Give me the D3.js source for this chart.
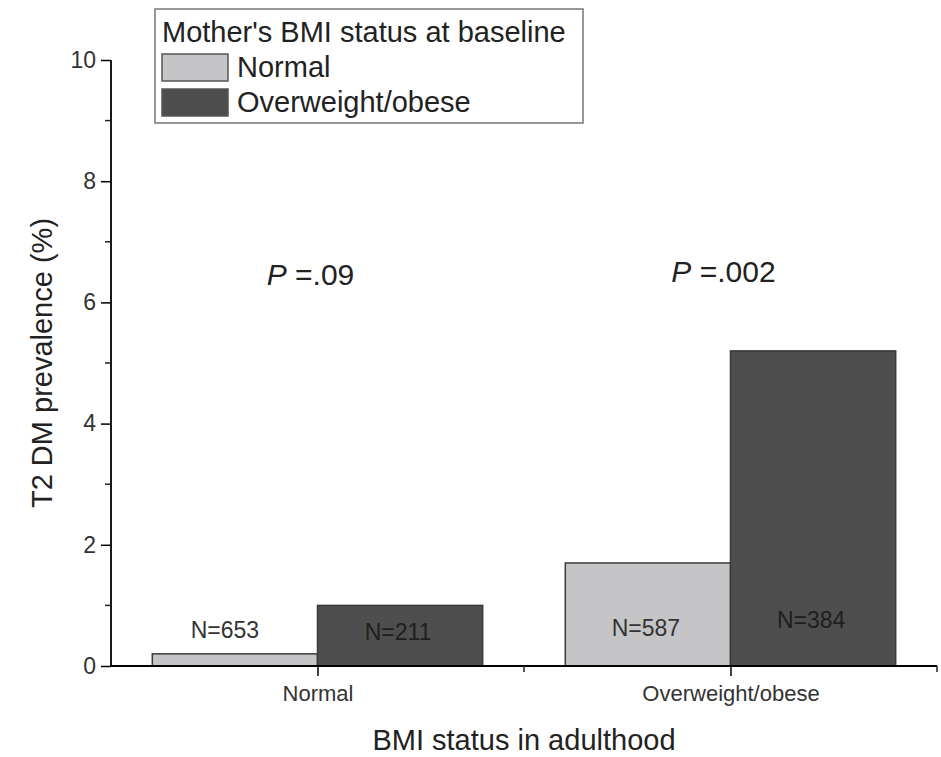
<!DOCTYPE html>
<html>
<head>
<meta charset="utf-8">
<script src="https://cdn.jsdelivr.net/npm/d3@7"></script>
<style>
  body { margin: 0; background: #fff; }
  text { font-family: "Liberation Sans", Arial, sans-serif; fill: #222; }
</style>
</head>
<body>
<div id="chart-container"></div>
<script>
const categories = ['Normal', 'Overweight/obese'];
const motherGroups = ['Normal', 'Overweight/obese'];
const normalMother = [0.2, 1.7];
const overweightMother = [1.0, 5.2];
const sampleSizes = [['N=653', 'N=587'], ['N=211', 'N=384']];
const pValues = ['.09', '.002'];
const yTicks = [0, 2, 4, 6, 8, 10];

const width = 941;
const height = 757;
const colors = ['#c5c5c7', '#4e4e4e'];
// where the N labels sit, in y units (text centre)
const labelLevels = [[0.6, 0.63], [0.56, 0.76]];

const svg = d3
  .select('#chart-container')
  .append('svg')
  .attr('width', width)
  .attr('height', height);

// category positions 1, 2 on an axis from 0.5 to 2.5 (Origin style)
const x = d3.scaleLinear().domain([0.5, 2.5]).range([111, 937]);
const y = d3.scaleLinear().domain([0, 10]).range([666, 60]);
const barWidth = 0.4;

const series = [normalMother, overweightMother];

// bars
series.forEach((values, s) => {
  svg
    .selectAll(null)
    .data(values)
    .enter()
    .append('rect')
    .attr('x', (_, i) => x(i + 1 + (s === 0 ? -barWidth : 0)))
    .attr('y', (d) => y(d))
    .attr('width', x(1 + barWidth) - x(1))
    .attr('height', (d) => y(0) - y(d))
    .style('fill', colors[s])
    .style('stroke', '#3a3a3a')
    .style('stroke-width', 1.5);
});

// N labels
series.forEach((values, s) => {
  svg
    .selectAll(null)
    .data(values)
    .enter()
    .append('text')
    .attr('x', (_, i) => x(i + 1 + (s === 0 ? -barWidth / 2 : barWidth / 2)) - (s === 0 && i === 0 ? 10 : 2))
    .attr('y', (_, i) => y(labelLevels[s][i]))
    .attr('dy', '0.36em')
    .attr('text-anchor', 'middle')
    .style('font-size', '23px')
    .style('fill', s === 0 ? '#333' : '#1e1e1e')
    .text((_, i) => sampleSizes[s][i]);
});

// P values
svg
  .selectAll(null)
  .data(pValues)
  .enter()
  .append('text')
  .attr('x', (_, i) => x(i + 1) - 7)
  .attr('y', (_, i) => y(6.34) - i * 3 + 3)
  .attr('text-anchor', 'middle')
  .style('font-size', '30px')
  .html((d) => `<tspan font-style="italic">P</tspan> =${d}`);

// y axis
const yAxis = d3.axisLeft(y).tickValues(yTicks).tickSize(10).tickPadding(5).tickFormat(d3.format('d'));
const gy = svg.append('g').attr('transform', `translate(${x(0.5)},0)`).call(yAxis);
gy.selectAll(null)
  .data([1, 3, 5, 7, 9])
  .enter()
  .append('line')
  .attr('x1', -6)
  .attr('x2', 0)
  .attr('y1', (d) => y(d))
  .attr('y2', (d) => y(d))
  .style('stroke', '#222')
  .style('stroke-width', 1.5);
gy.select('.domain').attr('d', `M0,${y(10)}V${y(0)}`).style('stroke-width', 1.8);
gy.selectAll('.tick line').style('stroke-width', 1.5);
gy.selectAll('.tick text').style('font-size', '23px').style('fill', '#333');

// x axis
const xAxis = d3.axisBottom(x).tickValues([1, 2]).tickSize(10).tickPadding(9)
  .tickFormat((d) => categories[d - 1]);
const gx = svg.append('g').attr('transform', `translate(0,${y(0)})`).call(xAxis);
gx.select('.domain').attr('d', `M${x(0.5)},0H${x(2.5)}`).style('stroke-width', 1.8);
gx.selectAll('.tick line').style('stroke-width', 1.5);
gx.selectAll('.tick text').style('font-size', '22px').style('fill', '#333');
gx.selectAll(null)
  .data([1.5, 2.5])
  .enter()
  .append('line')
  .attr('x1', (d) => x(d))
  .attr('x2', (d) => x(d))
  .attr('y1', 0)
  .attr('y2', 6)
  .style('stroke', '#222')
  .style('stroke-width', 1.5);

// axis titles
svg.append('text')
  .attr('x', (x(0.5) + x(2.5)) / 2)
  .attr('y', 750)
  .attr('text-anchor', 'middle')
  .style('font-size', '29px')
  .text('BMI status in adulthood');

svg.append('text')
  .attr('transform', `translate(52,${y(5)}) rotate(-90)`)
  .attr('text-anchor', 'middle')
  .style('font-size', '29px')
  .text('T2 DM prevalence (%)');

// legend
const legend = svg.append('g').attr('transform', 'translate(155,9)');
legend.append('rect')
  .attr('width', 428)
  .attr('height', 114)
  .style('fill', '#fff')
  .style('stroke', '#777')
  .style('stroke-width', 1.5);
legend.append('text')
  .attr('x', 7)
  .attr('y', 33)
  .style('font-size', '29px')
  .text("Mother's BMI status at baseline");
motherGroups.forEach((label, i) => {
  legend.append('rect')
    .attr('x', 7)
    .attr('y', 45 + i * 35)
    .attr('width', 66)
    .attr('height', 27)
    .style('fill', colors[i])
    .style('stroke', '#555')
    .style('stroke-width', 1.5);
  legend.append('text')
    .attr('x', 82)
    .attr('y', 68 + i * 35)
    .style('font-size', '29px')
    .text(label);
});
</script>
</body>
</html>
